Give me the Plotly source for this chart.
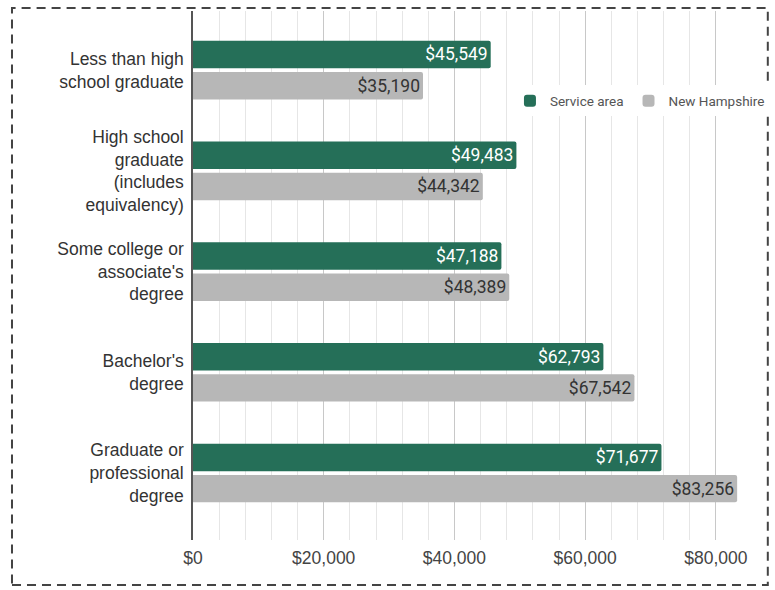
import plotly.graph_objects as go

# Median earnings by educational attainment
categories = [
    "Less than high<br>school graduate",
    "High school<br>graduate<br>(includes<br>equivalency)",
    "Some college or<br>associate's<br>degree",
    "Bachelor's<br>degree",
    "Graduate or<br>professional<br>degree",
]
service_area = [45549, 49483, 47188, 62793, 71677]
new_hampshire = [35190, 44342, 48389, 67542, 83256]

tick_values = [0, 20000, 40000, 60000, 80000]
tick_labels = ["$0", "$20,000", "$40,000", "$60,000", "$80,000"]

GREEN = "#256f58"
GRAY = "#b7b7b7"


def money(values):
    return [f"${v:,.0f}" for v in values]


fig = go.Figure()
fig.add_trace(go.Bar(
    name="Service area", y=categories, x=service_area, orientation="h",
    marker=dict(color=GREEN, cornerradius=2, line=dict(width=0)),
    text=money(service_area), textposition="inside", insidetextanchor="end",
    textfont=dict(family="Roboto", size=17.5, color="white"),
    cliponaxis=False,
))
fig.add_trace(go.Bar(
    name="New Hampshire", y=categories, x=new_hampshire, orientation="h",
    marker=dict(color=GRAY, cornerradius=2, line=dict(width=0)),
    text=money(new_hampshire), textposition="inside", insidetextanchor="end",
    textfont=dict(family="Roboto", size=17.5, color="#333333"),
    cliponaxis=False,
))

fig.update_layout(
    width=775, height=590,
    margin=dict(l=193, r=33, t=11, b=50, autoexpand=False),
    paper_bgcolor="white", plot_bgcolor="white",
    barmode="group", bargap=0.38, bargroupgap=0.12,
    font=dict(family="Liberation Sans, Arial", color="#333333"),
    showlegend=True,
    legend=dict(
        orientation="h", xref="container", yref="container",
        x=0.658, y=0.829, xanchor="left", yanchor="middle",
        bgcolor="white", font=dict(family="Roboto", size=13.5, color="#555555"),
        itemwidth=30, traceorder="normal",
    ),
    uniformtext=dict(minsize=17, mode="show"),
)

fig.update_xaxes(
    range=[0, 84000], tickvals=tick_values, ticktext=tick_labels,
    tickfont=dict(family="Liberation Sans, Arial", size=17.5, color="#444444"),
    ticklabelstandoff=5,
    showgrid=True, gridcolor="#c8c8c8", gridwidth=1,
    minor=dict(dtick=4000, showgrid=True, gridcolor="#e6e6e6", gridwidth=1),
    zeroline=False, showline=False, ticks="", fixedrange=True,
)
fig.update_yaxes(
    range=[4.665, -0.586], showgrid=False, zeroline=False,
    showline=True, linecolor="#555555", linewidth=1.5,
    ticks="", ticklabelstandoff=4,
    tickfont=dict(family="Liberation Sans, Arial", size=17.5, color="#333333"),
)

# Dashed frame around the whole chart
fig.add_shape(
    type="rect", xref="paper", yref="paper",
    x0=-0.3297, x1=1.047, y0=-0.085, y1=1.0057,
    line=dict(color="#444444", width=2, dash="9px,6px"),
    fillcolor="rgba(0,0,0,0)", layer="above",
)

fig.write_html("out.html")
